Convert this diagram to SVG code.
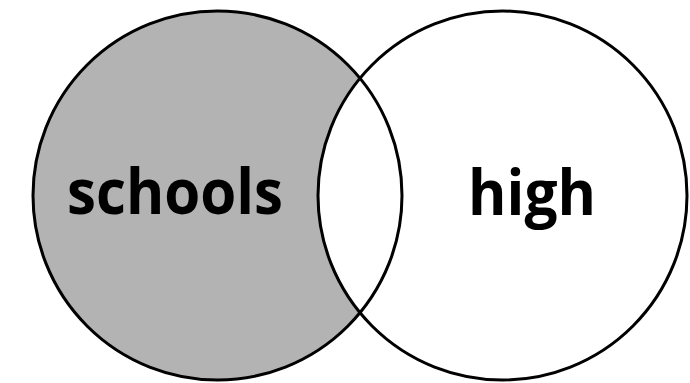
<svg xmlns="http://www.w3.org/2000/svg" width="690" height="383" viewBox="0 0 690 383">
<style>
.c{stroke:#000;stroke-width:3;fill:none}
.t{font-family:"Open Sans","Liberation Sans",sans-serif;font-weight:bold;font-size:63px;text-anchor:middle;fill:#000}
</style>
<rect width="690" height="383" fill="#fff"/>
<g id="set-schools">
<circle cx="217.5" cy="195.5" r="184.5" fill="#b3b3b3"/>
</g>
<g id="set-high">
<circle cx="502.5" cy="195.5" r="184.5" fill="#fff"/>
</g>
<g id="outlines">
<circle class="c" cx="217.5" cy="195.5" r="184.5"/>
<circle class="c" cx="502.5" cy="195.5" r="184.5"/>
</g>
<g id="labels">
<text class="t" x="175" y="214" textLength="216" lengthAdjust="spacingAndGlyphs">schools</text>
<text class="t" x="532" y="215" textLength="128" lengthAdjust="spacingAndGlyphs">high</text>
</g>
</svg>
